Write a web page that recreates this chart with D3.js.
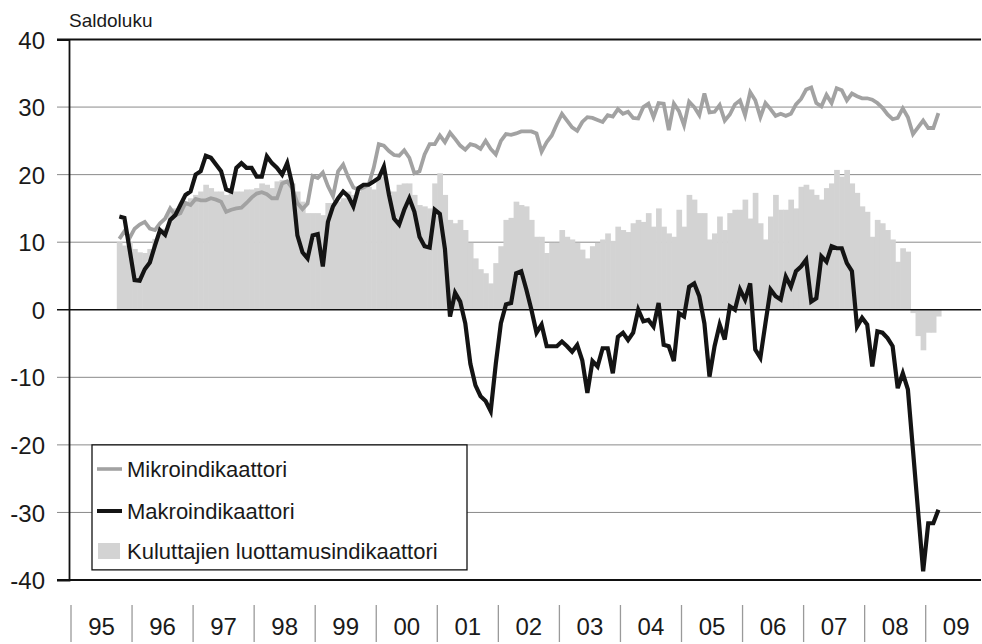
<!DOCTYPE html>
<html><head><meta charset="utf-8">
<script src="https://cdn.jsdelivr.net/npm/d3@7"></script>
<style>
body{margin:0;background:#fff}
svg{display:block}
text{font-family:"Liberation Sans",Arial,sans-serif;fill:#1a1a1a}
</style>
</head><body><svg id="c" width="982" height="644"></svg>
<script>
// Monthly data, October 1995 - March 2009
const startYear = 1995, startMonth = 9;
const makro = [
 13.8, 13.6, 9.0,
 4.4, 4.3, 6.0, 7.0, 9.5, 11.8, 11.1, 13.3, 14.0, 15.5, 17.0, 17.5,
 20.0, 20.5, 22.8, 22.5, 21.5, 20.5, 17.8, 17.5, 21.0, 21.7, 21.0, 21.0,
 19.7, 19.7, 22.7, 21.7, 21.0, 20.0, 21.7, 18.5, 11.0, 8.5, 7.6, 11.0,
 11.2, 6.4, 13.0, 15.3, 16.5, 17.5, 16.8, 15.3, 18.0, 18.5, 18.5, 19.0,
 19.5, 21.2, 17.0, 13.5, 12.6, 14.8, 16.5, 14.5, 10.8, 9.4, 9.2, 14.8,
 14.2, 9.0, -1.0, 2.5, 1.2, -2.0, -8.0, -11.2, -12.8, -13.5, -15.0, -8.0,
 -2.0, 0.8, 1.0, 5.4, 5.7, 3.0, 0.0, -3.4, -2.2, -5.4, -5.4, -5.4,
 -4.7, -5.4, -6.2, -5.2, -7.5, -12.3, -7.6, -8.4, -5.7, -5.7, -9.4, -4.0,
 -3.4, -4.5, -3.4, 0.0, -1.7, -1.5, -2.5, 1.0, -5.2, -5.4, -7.6, -0.5,
 -1.0, 3.4, 3.9, 2.0, -2.0, -9.9, -5.4, -2.2, -4.4, 0.5, 0.0, 3.0,
 1.5, 3.9, -5.9, -7.1, -2.0, 3.0, 2.0, 1.5, 4.9, 3.4, 5.7, 6.4,
 7.4, 1.2, 1.7, 7.9, 7.1, 9.4, 9.1, 9.1, 6.9, 5.7, -2.5, -1.2,
 -2.2, -8.4, -3.2, -3.4, -4.2, -5.4, -11.6, -9.4, -11.8, -20.8, -29.8, -38.7,
 -31.6, -31.6, -29.6
];
const mikro = [
 10.5, 11.6, 10.6,
 12.0, 12.6, 13.0, 12.0, 11.8, 12.8, 13.5, 15.0, 14.0, 14.3, 15.8, 15.5,
 16.4, 16.2, 16.2, 16.5, 16.3, 16.0, 14.5, 14.8, 15.0, 15.1, 15.8, 16.6,
 17.2, 17.4, 17.1, 16.5, 16.5, 18.7, 19.0, 18.0, 15.8, 14.9, 15.7, 19.8,
 19.5, 20.3, 18.3, 16.8, 20.5, 21.5, 19.6, 18.1, 17.8, 18.1, 18.5, 21.0,
 24.5, 24.3, 23.5, 22.9, 22.8, 23.6, 22.5, 20.2, 20.5, 23.0, 24.5, 24.5,
 25.8, 24.8, 26.2, 25.3, 24.3, 23.7, 24.5, 24.3, 23.8, 25.0, 23.8, 23.0,
 25.0, 26.0, 25.9, 26.1, 26.4, 26.4, 26.4, 26.1, 23.4, 24.8, 25.8, 27.5,
 29.0, 28.0, 27.0, 26.5, 27.8, 28.5, 28.4, 28.1, 27.8, 28.8, 28.6, 29.7,
 29.0, 29.3, 28.4, 28.3, 30.0, 30.5, 28.5, 30.6, 30.5, 26.6, 30.5, 29.4,
 27.3, 30.8, 30.0, 28.8, 32.0, 29.2, 29.3, 30.3, 28.0, 28.9, 30.4, 31.0,
 28.8, 32.2, 31.0, 28.5, 30.6, 29.7, 28.7, 29.0, 28.7, 29.0, 30.4, 31.2,
 32.6, 32.9, 30.6, 30.1, 31.8, 30.6, 32.8, 32.5, 31.0, 32.0, 31.6, 31.3,
 31.3, 31.1, 30.6, 29.9, 28.9, 28.2, 28.4, 29.8, 28.5, 26.0, 27.0, 28.0,
 26.9, 26.9, 29.1
];
const kuluttajat = [
 10.0, 9.5, 10.0,
 9.0, 8.5, 8.4, 9.0, 10.5, 11.5, 12.0, 14.5, 15.0, 15.0, 16.0, 16.5,
 17.0, 17.5, 18.5, 18.0, 17.5, 17.5, 17.0, 17.5, 17.5, 17.5, 17.8, 17.8,
 18.0, 18.7, 18.5, 18.0, 19.0, 19.2, 19.2, 18.7, 17.5, 16.0, 14.3, 14.3,
 14.3, 14.0, 15.8, 15.8, 16.0, 16.5, 17.5, 17.0, 17.5, 18.2, 18.2, 17.8,
 19.5, 19.7, 17.5, 17.5, 18.5, 18.7, 18.7, 17.0, 15.5, 15.3, 15.0, 18.7,
 20.2, 17.0, 13.3, 12.8, 13.3, 11.8, 9.9, 7.6, 6.0, 5.4, 3.9, 6.9,
 9.4, 13.3, 13.6, 16.0, 15.5, 15.3, 13.3, 10.8, 10.8, 8.4, 9.9, 9.9,
 11.8, 10.8, 10.4, 9.9, 8.9, 7.6, 9.4, 9.9, 10.4, 11.3, 10.2, 12.3,
 11.8, 11.5, 12.8, 13.3, 13.0, 14.3, 12.3, 15.0, 12.3, 11.3, 10.8, 14.8,
 12.3, 17.0, 16.3, 14.3, 14.3, 10.4, 11.3, 13.8, 11.8, 14.3, 14.8, 14.8,
 16.3, 13.5, 17.3, 12.8, 10.4, 13.8, 17.0, 14.8, 14.8, 16.3, 15.0, 18.2,
 18.5, 17.8, 17.0, 16.3, 18.0, 18.7, 20.7, 19.7, 20.7, 18.7, 17.3, 15.3,
 14.5, 10.8, 13.3, 12.8, 11.8, 10.4, 7.1, 9.1, 8.6, -0.5, -3.9, -6.0,
 -3.4, -3.4, -1.0
];
const yTicks = [-40, -30, -20, -10, 0, 10, 20, 30, 40];
const yearLabels = ["95","96","97","98","99","00","01","02","03","04","05","06","07","08","09"];
const legendLabels = ["Mikroindikaattori", "Makroindikaattori", "Kuluttajien luottamusindikaattori"];
const yTitle = "Saldoluku";

const colBar = "#d3d3d3", colMikro = "#a2a2a2", colMakro = "#141414";

const svg = d3.select("#c");
const x = d3.scaleLinear().domain([1995, 2010]).range([71, 986.75]);
const y = d3.scaleLinear().domain([-40, 40]).range([580, 39.5]);
const t = i => startYear + (startMonth + i) / 12;
const xL = 57, xR = 981, xAxis = 69;

// gridlines (behind bars)
svg.append("g").selectAll("line")
  .data(yTicks.filter(v => v !== 0 && Math.abs(v) !== 40))
  .join("line")
  .attr("x1", xL).attr("x2", xR)
  .attr("y1", d => y(d)).attr("y2", d => y(d))
  .attr("stroke", "#8a8a8a").attr("stroke-width", 1);

// bars
svg.append("g").selectAll("rect")
  .data(kuluttajat)
  .join("rect")
  .attr("x", (d, i) => x(t(i)))
  .attr("width", (d, i) => x(t(i + 1)) - x(t(i)) + 0.6)
  .attr("y", d => y(Math.max(0, d)))
  .attr("height", d => Math.abs(y(d) - y(0)))
  .attr("fill", colBar);

// frame lines
svg.append("g").selectAll("line")
  .data([40, 0, -40])
  .join("line")
  .attr("x1", xL).attr("x2", xR)
  .attr("y1", d => y(d)).attr("y2", d => y(d))
  .attr("stroke", "#111").attr("stroke-width", d => d === 0 ? 1.6 : 1.8);

// y axis
const yAxis = d3.axisLeft(y).tickValues(yTicks).tickSize(12).tickPadding(12).tickFormat(d => String(d));
const ga = svg.append("g").attr("transform", `translate(${xAxis},0)`).call(yAxis);
ga.select(".domain").attr("stroke", "#111").attr("stroke-width", 1.8);
ga.selectAll(".tick line").attr("stroke", "none");
ga.selectAll(".tick text").attr("font-size", 24).attr("font-family", '"Liberation Sans",Arial,sans-serif').attr("fill", "#1a1a1a").attr("dy", "0.36em");

// lines
const line = d3.line().x((d, i) => x(t(i) + 1 / 24)).y(d => y(d)).curve(d3.curveLinear);
svg.append("path").datum(mikro).attr("d", line)
  .attr("fill", "none").attr("stroke", colMikro).attr("stroke-width", 3.8).attr("stroke-linejoin", "miter");
svg.append("path").datum(makro).attr("d", line)
  .attr("fill", "none").attr("stroke", colMakro).attr("stroke-width", 4.2).attr("stroke-linejoin", "miter");

// x axis: separators and year labels
const years = d3.range(1995, 2010);
svg.append("g").selectAll("line")
  .data(years).join("line")
  .attr("x1", d => x(d)).attr("x2", d => x(d))
  .attr("y1", 605).attr("y2", 642)
  .attr("stroke", "#9a9a9a").attr("stroke-width", 1.3);
svg.append("g").selectAll("text")
  .data(years).join("text")
  .attr("x", d => x(d + 0.5)).attr("y", 635)
  .attr("text-anchor", "middle").attr("font-size", 24)
  .text((d, i) => yearLabels[i]);

// title
svg.append("text").attr("x", 69).attr("y", 27).attr("font-size", 19).text(yTitle);

// legend
const lg = svg.append("g");
lg.append("rect").attr("x", 92).attr("y", y(-20)).attr("width", 375).attr("height", 125)
  .attr("fill", "#fff").attr("stroke", "#111").attr("stroke-width", 1.3);
const ly = [469, 511, 551];
lg.append("line").attr("x1", 97).attr("x2", 122).attr("y1", ly[0]).attr("y2", ly[0])
  .attr("stroke", colMikro).attr("stroke-width", 3.6);
lg.append("line").attr("x1", 97).attr("x2", 122).attr("y1", ly[1]).attr("y2", ly[1])
  .attr("stroke", colMakro).attr("stroke-width", 4);
lg.append("rect").attr("x", 98).attr("y", 543).attr("width", 22).attr("height", 16).attr("fill", colBar);
lg.selectAll("text.l").data(legendLabels).join("text")
  .attr("x", 127).attr("y", (d, i) => ly[i] + 8).attr("font-size", 22).text(d => d);
</script>
</body></html>
